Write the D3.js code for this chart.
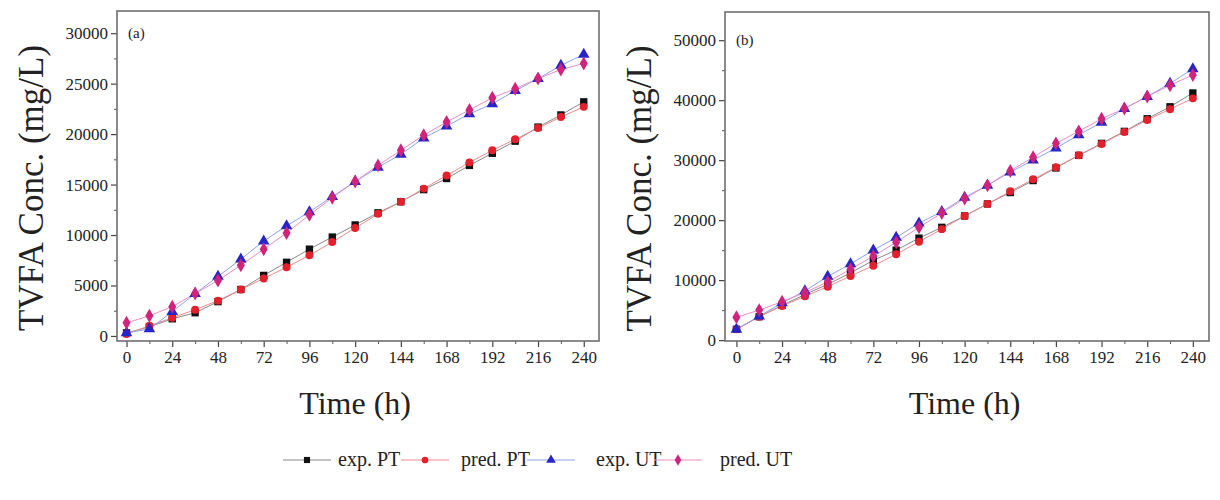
<!DOCTYPE html>
<html>
<head>
<meta charset="utf-8">
<script src="https://cdn.jsdelivr.net/npm/d3@7"></script>
<style>
  body { margin: 0; background: #fff; }
  svg text { font-family: "Liberation Serif", "Times New Roman", serif; fill: #222; }
</style>
</head>
<body>
<svg id="chart" width="1220" height="500"></svg>
<script>
// sampling times (h)
const hours = [0, 12, 24, 36, 48, 60, 72, 84, 96, 108, 120, 132, 144, 156, 168, 180, 192, 204, 216, 228, 240];
const xTicks = [0, 24, 48, 72, 96, 120, 144, 168, 192, 216, 240];

// panel (a)
const aExpPT  = [300, 900, 1700, 2300, 3400, 4600, 6000, 7300, 8600, 9800, 11000, 12200, 13300, 14500, 15600, 16900, 18100, 19300, 20700, 21900, 23200];
const aPredPT = [200, 1000, 1800, 2600, 3500, 4600, 5700, 6800, 8000, 9300, 10700, 12100, 13300, 14600, 15900, 17200, 18400, 19500, 20600, 21700, 22700];
const aExpUT  = [300, 700, 2400, 4200, 5900, 7600, 9400, 10900, 12300, 13800, 15300, 16700, 18000, 19600, 20800, 22000, 23000, 24300, 25500, 26800, 27900];
const aPredUT = [1300, 2000, 2900, 4200, 5500, 7000, 8600, 10200, 12000, 13700, 15300, 16900, 18400, 19900, 21200, 22400, 23600, 24500, 25500, 26400, 27000];
const aYTicks = [0, 5000, 10000, 15000, 20000, 25000, 30000];

// panel (b)
const bExpPT  = [1800, 3900, 5800, 7600, 9300, 11200, 13300, 15000, 17000, 18800, 20700, 22700, 24600, 26600, 28700, 30800, 32800, 34800, 36900, 38900, 41200];
const bPredPT = [1800, 3900, 5700, 7300, 8900, 10700, 12400, 14300, 16400, 18500, 20700, 22700, 24800, 26800, 28800, 30800, 32700, 34700, 36700, 38500, 40300];
const bExpUT  = [1800, 4000, 6200, 8200, 10600, 12700, 15000, 17100, 19500, 21400, 23800, 25800, 28000, 30000, 32000, 34200, 36300, 38600, 40600, 42800, 45200];
const bPredUT = [3800, 5000, 6400, 7900, 9700, 11800, 14000, 16300, 18800, 21200, 23600, 25800, 28200, 30500, 32800, 34800, 36900, 38600, 40600, 42500, 44200];
const bYTicks = [0, 10000, 20000, 30000, 40000, 50000];

const seriesNames = ["exp. PT", "pred. PT", "exp. UT", "pred. UT"];

const FONT = "'Liberation Serif', 'Times New Roman', serif";

const styles = [
  { sym: d3.symbolSquare,   size: 54, fill: "#111111", line: "#8a8a8a" },
  { sym: d3.symbolCircle,   size: 50, fill: "#e3202c", line: "#f08a8e" },
  { sym: d3.symbolTriangle, size: 58, fill: "#2626c8", line: "#8ea4f0" },
  { sym: d3.symbolDiamond,  size: 56, fill: "#d0247c", line: "#ec8cc4" }
];

const svg = d3.select("#chart");

function drawPanel(opt) {
  const x = d3.scaleLinear().domain(opt.xDomain).range([opt.left, opt.right]);
  const y = d3.scaleLinear().domain(opt.yDomain).range([opt.bottom, opt.top]);
  const g = svg.append("g");

  // minor ticks
  const xMinor = hours.filter(h => xTicks.indexOf(h) < 0);
  g.append("g")
    .attr("transform", "translate(0," + opt.bottom + ")")
    .call(d3.axisBottom(x).tickValues(xMinor).tickSize(3).tickFormat(""))
    .call(s => s.select(".domain").remove())
    .selectAll("line").attr("stroke", "#555");
  const step = opt.yTicks[1] - opt.yTicks[0];
  const yMinor = opt.yTicks.map(v => v + step / 2).filter(v => v < opt.yDomain[1]);
  g.append("g")
    .attr("transform", "translate(" + opt.left + ",0)")
    .call(d3.axisLeft(y).tickValues(yMinor).tickSize(3).tickFormat(""))
    .call(s => s.select(".domain").remove())
    .selectAll("line").attr("stroke", "#555");

  // major ticks
  const xa = g.append("g")
    .attr("transform", "translate(0," + opt.bottom + ")")
    .call(d3.axisBottom(x).tickValues(xTicks).tickSize(6).tickPadding(4).tickFormat(d3.format("d")))
    .attr("font-family", FONT);
  xa.select(".domain").remove();
  xa.selectAll("line").attr("stroke", "#444").attr("stroke-width", 1.2);
  xa.selectAll("text").style("font-size", "17px").style("font-family", FONT).attr("fill", "#333");

  const ya = g.append("g")
    .attr("transform", "translate(" + opt.left + ",0)")
    .call(d3.axisLeft(y).tickValues(opt.yTicks).tickSize(6).tickPadding(3).tickFormat(d3.format("d")))
    .attr("font-family", FONT);
  ya.select(".domain").remove();
  ya.selectAll("line").attr("stroke", "#444").attr("stroke-width", 1.2);
  ya.selectAll("text").style("font-size", "17px").style("font-family", FONT).attr("fill", "#333");

  // frame
  g.append("rect")
    .attr("x", opt.left).attr("y", opt.top)
    .attr("width", opt.right - opt.left).attr("height", opt.bottom - opt.top)
    .attr("fill", "none").attr("stroke", "#6e6e6e").attr("stroke-width", 1.6);

  // series
  const line = d3.line().x((d, i) => x(hours[i])).y(d => y(d));
  opt.series.forEach((vals, k) => {
    g.append("path")
      .datum(vals)
      .attr("d", line)
      .attr("fill", "none")
      .attr("stroke", styles[k].line)
      .attr("stroke-width", 1);
  });
  opt.series.forEach((vals, k) => {
    g.selectAll(null)
      .data(vals)
      .enter()
      .append("path")
      .attr("transform", (d, i) => "translate(" + x(hours[i]) + "," + y(d) + ")")
      .attr("d", d3.symbol().type(styles[k].sym).size(styles[k].size))
      .attr("fill", styles[k].fill);
  });

  // panel tag
  g.append("text")
    .attr("x", opt.left + 11)
    .attr("y", y(opt.yTicks[opt.yTicks.length - 1]) + 5)
    .style("font-size", "15px")
    .text(opt.tag);

  // axis titles
  g.append("text")
    .attr("text-anchor", "middle")
    .attr("transform", "translate(" + (opt.left - 74) + "," + ((opt.top + opt.bottom) / 2 + 12) + ")rotate(-90)")
    .style("font-size", "35px")
    .text("TVFA Conc. (mg/L)");
  g.append("text")
    .attr("text-anchor", "middle")
    .attr("x", (x(0) + x(240)) / 2)
    .attr("y", 414)
    .style("font-size", "32px")
    .text("Time (h)");
}

drawPanel({
  left: 117, right: 599, top: 11, bottom: 341,
  xDomain: [-5, 248], yDomain: [-500, 32200],
  yTicks: aYTicks, tag: "(a)",
  series: [aExpPT, aPredPT, aExpUT, aPredUT]
});

drawPanel({
  left: 725, right: 1209, top: 12, bottom: 341,
  xDomain: [-6, 248.5], yDomain: [-150, 54700],
  yTicks: bYTicks, tag: "(b)",
  series: [bExpPT, bPredPT, bExpUT, bPredUT]
});

// legend
const legendLineX = [283, 401, 527, 654];
const legendTextX = [338, 461, 596, 720];
const legY = 460;
const leg = svg.append("g");
seriesNames.forEach((name, k) => {
  const lx = legendLineX[k];
  leg.append("line")
    .attr("x1", lx).attr("x2", lx + 48)
    .attr("y1", legY).attr("y2", legY)
    .attr("stroke", styles[k].line).attr("stroke-width", 1.2);
  leg.append("path")
    .attr("transform", "translate(" + (lx + 24) + "," + legY + ")")
    .attr("d", d3.symbol().type(styles[k].sym).size(styles[k].size * 0.7))
    .attr("fill", styles[k].fill);
  leg.append("text")
    .attr("x", legendTextX[k])
    .attr("y", legY + 6)
    .style("font-size", "20px")
    .text(name);
});
</script>
</body>
</html>
